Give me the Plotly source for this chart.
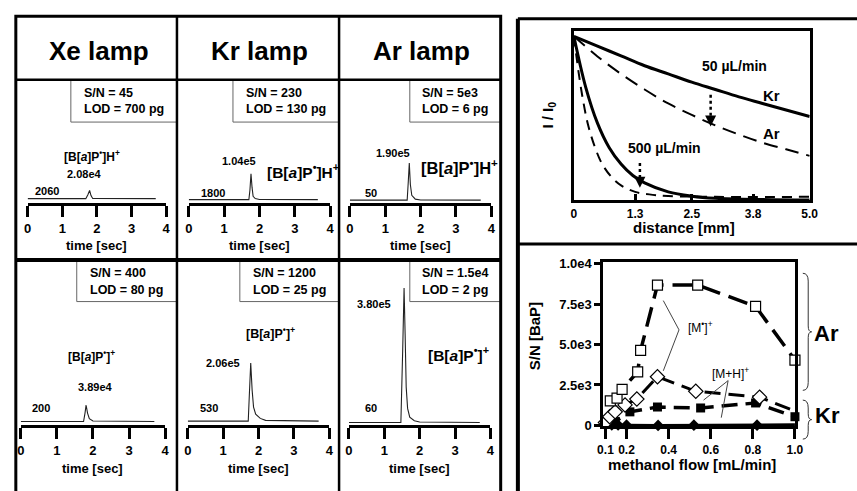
import plotly.graph_objects as go

W, H = 857, 491
def X(px): return px / W
def Y(py): return 1 - py / H

FONT = "Liberation Sans, Arial, sans-serif"

# ---------------- chromatogram data (time [sec], intensity [counts]) ----------------
xe_h_time = [0.0, 1.68, 1.74, 1.79, 1.83, 1.88, 3.7]
xe_h_int = [2060, 2060, 11000, 20800, 9000, 2500, 2060]
kr_h_time = [0.0, 1.70, 1.73, 1.76, 1.79, 1.82, 1.88, 2.0, 3.65]
kr_h_int = [1800, 1800, 40000, 104000, 50000, 15000, 6000, 2500, 1800]
ar_h_time = [0.0, 1.62, 1.65, 1.68, 1.71, 1.75, 1.85, 2.0, 3.7]
ar_h_int = [50, 50, 90000, 190000, 80000, 25000, 5000, 1000, 50]
xe_p_time = [0.0, 1.74, 1.78, 1.81, 1.85, 1.90, 2.0, 3.7]
xe_p_int = [200, 200, 20000, 38900, 20000, 7000, 1500, 200]
kr_p_time = [0.0, 1.71, 1.74, 1.78, 1.82, 1.86, 1.92, 2.05, 2.2, 3.7]
kr_p_int = [530, 530, 90000, 206000, 110000, 50000, 25000, 10000, 3000, 530]
ar_p_time = [0.0, 1.47, 1.52, 1.56, 1.59, 1.62, 1.66, 1.72, 1.85, 2.0, 3.7]
ar_p_int = [60, 60, 200000, 380000, 250000, 100000, 40000, 15000, 5000, 1500, 60]

lamp_titles = ["Xe lamp", "Kr lamp", "Ar lamp"]
baseline_labels = ["2060", "1800", "50", "200", "530", "60"]
peak_labels = ["2.08e4", "1.04e5", "1.90e5", "3.89e4", "2.06e5", "3.80e5"]
sn_labels = ["S/N = 45", "S/N = 230", "S/N = 5e3", "S/N = 400", "S/N = 1200", "S/N = 1.5e4"]
lod_labels = ["LOD = 700 pg", "LOD = 130 pg", "LOD = 6 pg", "LOD = 80 pg", "LOD = 25 pg", "LOD = 2 pg"]
time_ticks = [0, 1, 2, 3, 4]
ION_H = "[B[<i>a</i>]P<sup>•</sup>]H<sup>+</sup>"
ION_P = "[B[<i>a</i>]P<sup>•</sup>]<sup>+</sup>"

# ---------------- attenuation data ----------------
dist_kr50 = [0, 0.5, 1, 1.5, 2, 2.5, 3, 3.5, 4, 4.5, 5]
ratio_kr50 = [1.0, 0.94, 0.88, 0.82, 0.77, 0.72, 0.675, 0.63, 0.59, 0.55, 0.51]
dist_ar50 = [0, 0.5, 1, 1.5, 2, 2.5, 3, 3.5, 4, 4.5, 5]
ratio_ar50 = [1.0, 0.877, 0.77, 0.675, 0.59, 0.52, 0.456, 0.40, 0.35, 0.31, 0.27]
dist_kr500 = [0, 0.25, 0.5, 0.75, 1.0, 1.25, 1.5, 2.0, 2.5, 3.0, 4.0, 5.0]
ratio_kr500 = [1.0, 0.69, 0.47, 0.32, 0.22, 0.15, 0.105, 0.05, 0.024, 0.011, 0.003, 0.0]
dist_ar500 = [0, 0.1, 0.2, 0.3, 0.45, 0.6, 0.8, 1.0, 1.3, 1.6, 2.0, 3.0, 5.0]
ratio_ar500 = [1.0, 0.78, 0.6, 0.46, 0.32, 0.22, 0.14, 0.09, 0.05, 0.035, 0.025, 0.02, 0.02]
dist_ticks = [0, 1.3, 2.5, 3.8, 5.0]
dist_ticktext = ["0", "1.3", "2.5", "3.8", "5.0"]

# ---------------- S/N vs methanol flow ----------------
flow_ar_m = [0.123, 0.155, 0.179, 0.253, 0.267, 0.347, 0.538, 0.813, 1.0]
sn_ar_m = [1520, 1690, 2230, 3310, 4640, 8670, 8670, 7350, 4040]
flow_ar_mh = [0.10, 0.12, 0.146, 0.193, 0.249, 0.347, 0.529, 0.832, 1.02]
sn_ar_mh = [180, 540, 840, 1270, 1630, 3010, 2110, 1750, 780]
flow_kr_m = [0.099, 0.146, 0.216, 0.347, 0.552, 0.813, 1.0]
sn_kr_m = [120, 240, 840, 1140, 1080, 1390, 540]
flow_kr_mh = [0.10, 0.13, 0.16, 0.20, 0.35, 0.52, 0.82, 1.02]
sn_kr_mh = [30, 40, 30, 20, 0, 20, 20, 40]
sn_ticks = [0, 2500, 5000, 7500, 10000]
sn_ticktext = ["0", "2.5e3", "5.0e3", "7.5e3", "1.0e4"]
flow_ticks = [0.1, 0.2, 0.4, 0.6, 0.8, 1.0]
flow_ticktext = ["0.1", "0.2", "0.4", "0.6", "0.8", "1.0"]

fig = go.Figure()
annotations = []
shapes = []

def ann(text, x, y, size, bold=True, xanchor="center", yanchor="middle", angle=0):
    annotations.append(dict(text=(f"<b>{text}</b>" if bold else text), x=X(x), y=Y(y),
                            xref="paper", yref="paper", showarrow=False, xanchor=xanchor,
                            yanchor=yanchor, textangle=angle,
                            font=dict(size=size, family=FONT, color="black")))

def line(x0, y0, x1, y1, w, color="black", dash="solid"):
    shapes.append(dict(type="line", xref="paper", yref="paper", x0=X(x0), y0=Y(y0),
                       x1=X(x1), y1=Y(y1), line=dict(color=color, width=w, dash=dash)))

# ---------------- chromatogram panels ----------------
chrom = [
    (xe_h_time, xe_h_int, ION_H),
    (kr_h_time, kr_h_int, ION_H),
    (ar_h_time, ar_h_int, ION_H),
    (xe_p_time, xe_p_int, ION_P),
    (kr_p_time, kr_p_int, ION_P),
    (ar_p_time, ar_p_int, ION_P),
]
style = [
    dict(x0=22, x1=163, ax=203, base=198.5, peak=190, top=125, ion=(88, 155, 12), pk=(80, 173), bl=(42, 191), box=(66, 77, 120, 174, 77)),
    dict(x0=186, x1=330, ax=203, base=199.5, peak=173, top=125, ion=(302, 170, 15.5), pk=(237, 160), bl=(211, 193), box=(231, 77, 120, 339, 242)),
    dict(x0=350, x1=494, ax=203, base=200, peak=162, top=125, ion=(462, 166, 16.5), pk=(394, 152), bl=(371, 193), box=(411, 77, 120, 504, 421)),
    dict(x0=15, x1=162, ax=431, base=427, peak=410, top=280, ion=(87, 360, 12), pk=(91, 392), bl=(36, 413), box=(72, 262, 304, 174, 83)),
    dict(x0=185, x1=329, ax=431, base=426.5, peak=367, top=280, ion=(269, 336, 12.5), pk=(221, 367), bl=(207, 413), box=(238, 262, 304, 339, 249)),
    dict(x0=349, x1=493, ax=431, base=428, peak=290, top=280, ion=(461, 358, 15.5), pk=(375, 307), bl=(372, 413), box=(411, 262, 304, 504, 421)),
]

layout_axes = {}
for i, ((t, v, ion), st) in enumerate(zip(chrom, style)):
    n = i + 1
    xa = "x" if n == 1 else f"x{n}"
    ya = "y" if n == 1 else f"y{n}"
    fig.add_trace(go.Scatter(x=t, y=v, mode="lines", xaxis=xa, yaxis=ya,
                             line=dict(color="#222", width=1.1), hoverinfo="skip", showlegend=False))
    b, p = v[0], max(v)
    s = (p - b) / (st["base"] - st["peak"])
    a = b - s * (st["ax"] - st["base"])
    top = a + s * (st["ax"] - st["top"])
    key = "" if n == 1 else str(n)
    layout_axes[f"xaxis{key}"] = dict(domain=[X(st["x0"]), X(st["x1"])], anchor=ya, range=[0, 4],
                                      showline=True, linewidth=3, linecolor="black", ticks="outside",
                                      ticklen=11, tickwidth=3, tickcolor="black", tickvals=time_ticks,
                                      tickfont=dict(size=13, family=FONT, weight="bold"),
                                      showgrid=False, zeroline=False, fixedrange=True)
    layout_axes[f"yaxis{key}"] = dict(domain=[Y(st["ax"]), Y(st["top"])], anchor=xa, range=[a, top],
                                      visible=False, showgrid=False, zeroline=False)
    ann(ion, st["ion"][0], st["ion"][1], st["ion"][2], bold=True)
    ann(peak_labels[i], st["pk"][0], st["pk"][1], 11)
    ann(baseline_labels[i], st["bl"][0], st["bl"][1], 11)
    ann("time [sec]", (st["x0"] + st["x1"]) / 2, st["ax"] + 44, 13)
    l, tp, bt, r, tx = st["box"]
    line(l, tp, l, bt, 1, "#666")
    line(l, bt, r, bt, 1, "#666")
    ann(sn_labels[i], tx, tp + 13, 12.5, xanchor="left")
    ann(lod_labels[i], tx, tp + 30, 12.5, xanchor="left")

for j, title in enumerate(lamp_titles):
    ann(title, [95, 258, 423][j], 47, 26)

# left block frame
shapes.append(dict(type="rect", xref="paper", yref="paper", x0=X(10), x1=X(503.5), y0=Y(11.5), y1=Y(520),
                   line=dict(color="black", width=3)))
line(10, 76.5, 503.5, 76.5, 2.5)
line(174, 11.5, 174, 520, 2.5)
line(339, 11.5, 339, 520, 2.5)
line(10, 261.5, 503.5, 261.5, 4)
# right block frame
line(521, 14, 521, 520, 4)
line(521, 14, 870, 14, 3)
line(521, 245, 870, 245, 3)

# ---------------- attenuation panel ----------------
for d, r, w, dash in [(dist_kr50, ratio_kr50, 3, "solid"), (dist_ar50, ratio_ar50, 2, "14px,8px"),
                      (dist_kr500, ratio_kr500, 3, "solid"), (dist_ar500, ratio_ar500, 2, "10px,7px")]:
    fig.add_trace(go.Scatter(x=d, y=r, mode="lines", xaxis="x7", yaxis="y7", line_shape="spline",
                             line=dict(color="black", width=w, dash=dash), hoverinfo="skip", showlegend=False))
layout_axes["xaxis7"] = dict(domain=[X(578), X(818)], anchor="y7", range=[0, 5], showline=True, mirror=True,
                             linewidth=3, linecolor="black", ticks="inside", ticklen=6, tickwidth=3,
                             tickcolor="black", tickvals=dist_ticks, ticktext=dist_ticktext,
                             tickfont=dict(size=12, family=FONT, weight="bold"), showgrid=False, zeroline=False)
layout_axes["yaxis7"] = dict(domain=[Y(200), Y(27)], anchor="x7", range=[0, 1.03], showline=True, mirror=True,
                             linewidth=3, linecolor="black", showticklabels=False, ticks="",
                             showgrid=False, zeroline=False)
ann("distance [mm]", 690, 228, 15)
ann("I / I<sub>0</sub>", 552, 113, 15, angle=-90)
ann("50 µL/min", 741, 63, 14)
ann("Kr", 779, 93, 15)
ann("Ar", 779, 132, 15)
ann("500 µL/min", 670, 147, 14)
for (xd, y0, y1) in [(2.9, 0.643, 0.50), (1.4, 0.226, 0.125)]:
    shapes.append(dict(type="line", xref="x7", yref="y7", x0=xd, x1=xd, y0=y0, y1=y1,
                       line=dict(color="black", width=2.5, dash="dot")))
    annotations.append(dict(x=xd, y=y1 - 0.05, xref="x7", yref="y7", ax=0, ay=-9, text="",
                            showarrow=True, arrowhead=2, arrowsize=1.1, arrowwidth=2, arrowcolor="black"))

# ---------------- S/N panel ----------------
fig.add_trace(go.Scatter(x=flow_kr_mh, y=sn_kr_mh, mode="lines+markers", xaxis="x8", yaxis="y8", cliponaxis=False,
                         line=dict(color="black", width=3),
                         marker=dict(symbol="diamond", size=9, color="black"), hoverinfo="skip", showlegend=False))
fig.add_trace(go.Scatter(x=flow_kr_m, y=sn_kr_m, mode="lines+markers", xaxis="x8", yaxis="y8", cliponaxis=False,
                         line=dict(color="black", width=3.5, dash="16px,8px"),
                         marker=dict(symbol="square", size=9, color="black"), hoverinfo="skip", showlegend=False))
fig.add_trace(go.Scatter(x=flow_ar_mh, y=sn_ar_mh, mode="lines+markers", xaxis="x8", yaxis="y8", cliponaxis=False,
                         line=dict(color="black", width=3, dash="16px,8px"),
                         marker=dict(symbol="diamond", size=11, color="white", line=dict(color="black", width=1.2)),
                         hoverinfo="skip", showlegend=False))
fig.add_trace(go.Scatter(x=flow_ar_m, y=sn_ar_m, mode="lines+markers", xaxis="x8", yaxis="y8", cliponaxis=False,
                         line=dict(color="black", width=3.5, dash="20px,9px"),
                         marker=dict(symbol="square", size=10, color="white", line=dict(color="black", width=1.2)),
                         hoverinfo="skip", showlegend=False))
layout_axes["xaxis8"] = dict(domain=[X(608), X(803)], anchor="y8", range=[0.09, 1.0], showline=True, mirror=True,
                             linewidth=3, linecolor="black", ticks="outside", ticklen=10, tickwidth=3,
                             tickcolor="black", tickvals=flow_ticks, ticktext=flow_ticktext,
                             tickfont=dict(size=12, family=FONT, weight="bold"), showgrid=False, zeroline=False)
layout_axes["yaxis8"] = dict(domain=[Y(432), Y(263)], anchor="x8", range=[-60, 10120], showline=True, mirror=True,
                             linewidth=3, linecolor="black", ticks="outside", ticklen=6, tickwidth=3,
                             tickcolor="black", tickvals=sn_ticks, ticktext=sn_ticktext,
                             tickfont=dict(size=13, family=FONT, weight="bold"), showgrid=False, zeroline=False)
ann("S/N [BaP]", 538, 340, 15, angle=-90)
ann("methanol flow [mL/min]", 698, 471, 15)
ann("[M<sup>•</sup>]<sup>+</sup>", 707, 330, 12, bold=False)
ann("[M+H]<sup>+</sup>", 737, 377, 12, bold=False)
line(685, 333, 669, 303, 1, "#444")
line(685, 333, 669, 375, 1, "#444")
line(735, 385, 710, 405, 1, "#444")
line(735, 385, 728, 423, 1, "#444")

def brace(xl, y0, y1, xt):
    ym = (y0 + y1) / 2
    xm = (xl + xt) / 2 + 1
    p = (f"M {X(xl)} {Y(y0)} Q {X(xm)} {Y(y0)} {X(xm)} {Y(y0 + 8)} "
         f"L {X(xm)} {Y(ym - 6)} Q {X(xm)} {Y(ym)} {X(xt)} {Y(ym)} "
         f"Q {X(xm)} {Y(ym)} {X(xm)} {Y(ym + 6)} "
         f"L {X(xm)} {Y(y1 - 8)} Q {X(xm)} {Y(y1)} {X(xl)} {Y(y1)}")
    shapes.append(dict(type="path", xref="paper", yref="paper", path=p, line=dict(color="#333", width=1)))

brace(811, 275, 395, 820)
brace(811, 405, 445, 820)
ann("Ar", 835, 337, 22)
ann("Kr", 836, 421, 22)

fig.update_layout(width=W, height=H, autosize=False, margin=dict(l=0, r=0, t=0, b=0),
                  paper_bgcolor="white", plot_bgcolor="rgba(0,0,0,0)",
                  font=dict(family=FONT, color="black"),
                  annotations=annotations, shapes=shapes, showlegend=False, **layout_axes)

fig.write_html("out.html", config={"displayModeBar": False},
               post_script="document.body.style.margin='0';document.body.style.overflow='hidden';")
